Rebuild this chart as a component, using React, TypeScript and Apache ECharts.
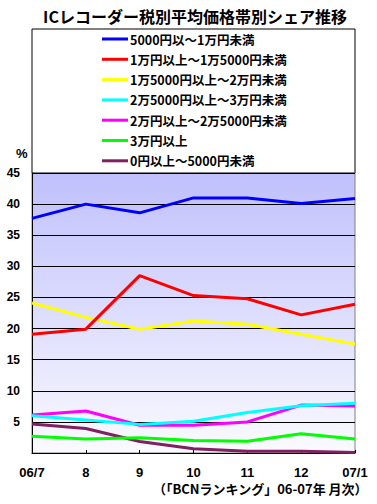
import React, { useEffect, useRef } from "react";
import * as echarts from "echarts";

const categories = ["06/7", "8", "9", "10", "11", "12", "07/1"];
const seriesNames = [
  "5000円以～1万円未満",
  "1万円以上～1万5000円未満",
  "1万5000円以上～2万円未満",
  "2万5000円以上～3万円未満",
  "2万円以上～2万5000円未満",
  "3万円以上",
  "0円以上～5000円未満",
];
const seriesColors = ["#0000ff", "#ff0000", "#ffff00", "#00ffff", "#ff00ff", "#00ff00", "#802060"];
const s5000to10000 = [37.7, 40.0, 38.6, 41.0, 41.0, 40.1, 40.9];
const s10000to15000 = [19.1, 19.9, 28.5, 25.3, 24.8, 22.2, 23.9];
const s15000to20000 = [24.1, 21.8, 19.9, 21.2, 20.7, 19.1, 17.5];
const s25000to30000 = [6.0, 5.3, 4.6, 5.1, 6.5, 7.6, 8.0];
const s20000to25000 = [6.1, 6.75, 4.45, 4.45, 5.0, 7.7, 7.55];
const s30000plus = [2.7, 2.25, 2.45, 2.0, 1.9, 3.1, 2.25];
const s0to5000 = [4.65, 3.95, 1.85, 0.7, 0.3, 0.3, 0.1];
const seriesData = [s5000to10000, s10000to15000, s15000to20000, s25000to30000, s20000to25000, s30000plus, s0to5000];
const yTicks = { min: 0, max: 45, interval: 5 };

const FONT = "'Noto Sans CJK JP', 'Liberation Sans', sans-serif";
const NUMFONT = "'Liberation Sans', 'Noto Sans CJK JP', sans-serif";

export default function App() {
  const ref = useRef<HTMLDivElement>(null);
  useEffect(() => {
    if (!ref.current) return;
    const chart = echarts.init(ref.current, undefined, { renderer: "svg" });
    chart.setOption({
      animation: false,
      backgroundColor: "#ffffff",
      title: {
        text: "ICレコーダー税別平均価格帯別シェア推移",
        left: 190,
        textAlign: "center",
        top: 3,
        textStyle: { fontFamily: FONT, fontSize: 16, fontWeight: "bold", color: "#000" },
      },
      graphic: [
        {
          type: "rect",
          z: -1,
          shape: { x: 32, y: 29, width: 323, height: 144 },
          style: { fill: "#ffffff", stroke: "#000000", lineWidth: 1 },
        },
        {
          type: "text",
          left: 16,
          top: 147,
          style: { text: "%", font: `bold 13px ${NUMFONT}`, fill: "#000" },
        },
        {
          type: "text",
          right: 9,
          top: 482,
          style: { text: "（「BCNランキング」06-07年 月次）", font: `bold 13px ${FONT}`, fill: "#000" },
        },
      ],
      legend: {
        orient: "vertical",
        left: 102,
        top: 32,
        padding: 0,
        itemWidth: 26,
        itemHeight: 3,
        itemGap: 6.3,
        icon: "rect",
        data: seriesNames,
        textStyle: {
          fontFamily: FONT,
          fontSize: 12.5,
          fontWeight: "bold",
          color: "#000",
          lineHeight: 14,
          padding: [0, 0, 0, -3],
        },
      },
      grid: {
        left: 32,
        right: 22,
        top: 173,
        bottom: 51,
        show: true,
        borderColor: "#808080",
        borderWidth: 1,
        backgroundColor: new echarts.graphic.LinearGradient(0, 0, 0, 1, [
          { offset: 0, color: "#c0c0fc" },
          { offset: 1, color: "#fafaff" },
        ]),
      },
      xAxis: {
        type: "category",
        data: categories,
        boundaryGap: false,
        axisLine: { lineStyle: { color: "#000", width: 1 } },
        axisTick: { show: true, inside: true, length: 3, lineStyle: { color: "#000" } },
        axisLabel: { fontFamily: NUMFONT, fontSize: 13, fontWeight: "bold", color: "#000", margin: 13 },
      },
      yAxis: {
        type: "value",
        min: yTicks.min,
        max: yTicks.max,
        interval: yTicks.interval,
        axisLine: { show: true, lineStyle: { color: "#000", width: 1 } },
        axisTick: { show: false },
        splitLine: { lineStyle: { color: "#000", width: 1 } },
        axisLabel: {
          fontFamily: NUMFONT,
          fontSize: 12,
          fontWeight: "bold",
          color: "#000",
          margin: 12,
          formatter: (v: number) => (v === 0 ? "" : String(v)),
        },
      },
      series: seriesNames.map((name, i) => ({
        name,
        type: "line",
        data: seriesData[i],
        color: seriesColors[i],
        showSymbol: false,
        symbol: "none",
        lineStyle: { width: 3, color: seriesColors[i] },
        z: 10 - i,
      })),
    });
    return () => chart.dispose();
  }, []);
  return <div ref={ref} style={{ position: "fixed", left: 0, top: 0, width: 377, height: 504 }} />;
}
